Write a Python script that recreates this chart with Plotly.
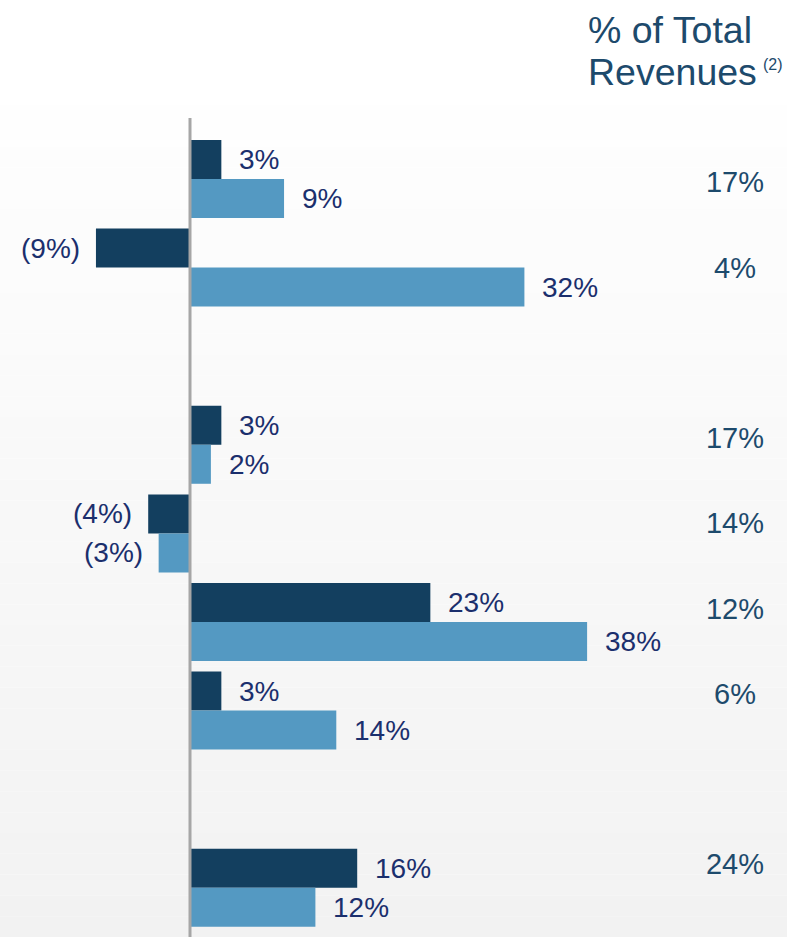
import plotly.graph_objects as go

# ---- data ----
slots = [0, 1, 3, 4, 5, 6, 8]              # row positions (empty rows at 2 and 7)
series_dark = [3, -9, 3, -4, 23, 3, 16]
series_light = [9, 32, 2, -3, 38, 14, 12]
pct_total_revenues = [17, 4, 17, 14, 12, 6, 24]
header_line1 = "% of Total"
header_line2 = "Revenues"
header_note = "(2)"

DARK = "#133f5f"
LIGHT = "#5499c2"
LABEL = "#1b2f6d"
RIGHT = "#1d4a6c"
FONT = "Arial, Liberation Sans, sans-serif"


def fmt(v):
    return f"({abs(v)}%)" if v < 0 else f"{v}%"


W, H = 787, 937
TOP = 105
px_per_pct = 10.45
zero_px = 190
x_range = [-zero_px / px_per_pct, (W - zero_px) / px_per_pct]

slot_px0, slot_step = 179, 88.6
y_range = [(H - slot_px0) / slot_step, -(slot_px0 - TOP) / slot_step]
r_px0, r_step = 185, 85.25
y2_range = [(H - r_px0) / r_step, -(r_px0 - TOP) / r_step]

fig = go.Figure()
fig.add_bar(x=series_dark, y=slots, orientation="h", marker_color=DARK,
            marker_line_width=0, hoverinfo="skip")
fig.add_bar(x=series_light, y=slots, orientation="h", marker_color=LIGHT,
            marker_line_width=0, hoverinfo="skip")

# right-hand column
fig.add_scatter(x=[(735 - zero_px) / px_per_pct] * len(slots), y=slots, yaxis="y2",
                mode="text", text=[f"{v}%" for v in pct_total_revenues],
                textposition="middle center",
                textfont=dict(family=FONT, size=29, color=RIGHT), hoverinfo="skip")

annotations = []
bar_off = 0.22
for vals, off in ((series_dark, -bar_off), (series_light, bar_off)):
    for s, v in zip(slots, vals):
        annotations.append(dict(
            x=v, y=s + off, xref="x", yref="y", text=fmt(v), showarrow=False,
            xanchor="left" if v >= 0 else "right",
            xshift=16 if v >= 0 else -14,
            font=dict(family=FONT, size=28, color=LABEL)))

annotations.append(dict(x=586 / W, y=1 + (TOP - 30) / (H - TOP), xref="paper", yref="paper",
                        text=header_line1, showarrow=False, xanchor="left", yanchor="middle",
                        font=dict(family=FONT, size=37.5, color=RIGHT)))
annotations.append(dict(x=586 / W, y=1 + (TOP - 72) / (H - TOP), xref="paper", yref="paper",
                        text=header_line2, showarrow=False, xanchor="left", yanchor="middle",
                        font=dict(family=FONT, size=37.5, color=RIGHT)))
annotations.append(dict(x=761 / W, y=1 + (TOP - 65) / (H - TOP), xref="paper", yref="paper",
                        text=header_note, showarrow=False, xanchor="left", yanchor="middle",
                        font=dict(family=FONT, size=16, color=RIGHT)))

# gradient background bands
shapes = []
n = 40
for i in range(n):
    t = i / (n - 1)
    c = round(254 - 12 * t)
    shapes.append(dict(type="rect", xref="paper", yref="paper",
                       x0=0, x1=1, y0=1 - i / n, y1=1 - (i + 1) / n,
                       fillcolor=f"rgb({c},{c},{c})", line_width=0, layer="below"))
shapes.append(dict(type="line", xref="x", yref="paper", x0=0, x1=0,
                   y0=0, y1=1 - (118 - TOP) / (H - TOP),
                   line=dict(color="#a6a6a6", width=3), layer="above"))

fig.update_layout(
    width=W, height=H, margin=dict(l=0, r=0, t=TOP, b=0),
    paper_bgcolor="white", plot_bgcolor="rgba(0,0,0,0)",
    barmode="group", bargap=0.12, bargroupgap=0,
    showlegend=False,
    xaxis=dict(range=x_range, visible=False, fixedrange=True),
    yaxis=dict(range=y_range, visible=False, fixedrange=True),
    yaxis2=dict(range=y2_range, visible=False, overlaying="y", fixedrange=True),
    annotations=annotations, shapes=shapes,
)

fig.write_html("out.html", config={"displayModeBar": False},
               post_script="document.body.style.margin='0';document.body.style.overflow='hidden';")
